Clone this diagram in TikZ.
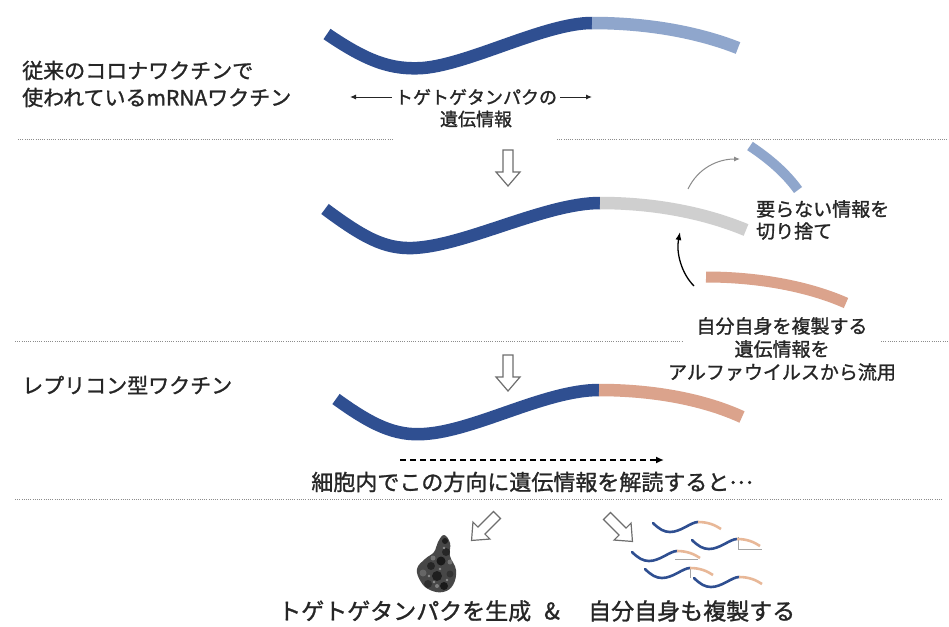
\documentclass[tikz,border=0pt]{standalone}
\usepackage{fontspec}
\setmainfont{Noto Sans CJK JP}[UprightFeatures={FakeBold=1.2}]
\usetikzlibrary{arrows.meta}
\definecolor{rnablue}{HTML}{2F4F91}
\definecolor{rnalight}{HTML}{8FA6CC}
\definecolor{rnagray}{HTML}{CFCFCF}
\definecolor{rnasalmon}{HTML}{DBA38C}
\definecolor{minisalmon}{HTML}{E8B898}
\definecolor{txt}{HTML}{262626}
\definecolor{sepline}{HTML}{8C8C8C}
\definecolor{arrowgray}{HTML}{6E6E6E}
\begin{document}
\begin{tikzpicture}[x=1pt,y=-1pt,
  strand/.style={line width=12.5pt,line cap=butt},
  sep/.style={sepline,line width=0.8pt,dash pattern=on 1pt off 1.2pt},
  hollow/.style={arrowgray,line width=1.2pt,fill=white,line join=miter},
  lbl/.style={txt,inner sep=0pt},
  ministrand/.pic={
    \draw[rnablue,line width=2.6pt,line cap=round]
      (0,0) .. controls (6,6) and (11,9) .. (17,9) .. controls (28,9) and (38,-1) .. (45,-1);
    \draw[minisalmon,line width=2.6pt]
      (45,-1) .. controls (55,-1) and (62,2) .. (68,6);
  },
  hollowarrow/.pic={
    \draw[hollow] (-5,0) -- (5,0) -- (5,22) -- (12,22) -- (0,36) -- (-12,22) -- (-5,22) -- cycle;
  }
]
\useasboundingbox[fill=white] (0,0) rectangle (949,626);

% ---------- section 1: conventional mRNA vaccine ----------
\node[lbl,anchor=west,align=left,font=\fontsize{21}{27}\selectfont] (convtitle) at (22,84)
  {従来のコロナワクチンで\\使われているmRNAワクチン};

\draw[strand,rnablue] (327,34) .. controls (368,62) and (392,70) .. (423,68)
  .. controls (470,64) and (545,23) .. (592,23);
\draw[strand,rnalight] (592,23) .. controls (650,23) and (700,33) .. (738,48);

\node[lbl,font=\fontsize{18}{18}\selectfont] (gl1) at (476,97) {トゲトゲタンパクの};
\node[lbl,font=\fontsize{18}{18}\selectfont] (gl2) at (476,119) {遺伝情報};
\coordinate (glL) at (350,97);
\coordinate (glR) at (592,97);
\draw[txt,line width=1pt,-{Latex[length=6pt,width=5pt]}] ([xshift=-3pt]gl1.west) -- (glL);
\draw[txt,line width=1pt,-{Latex[length=6pt,width=5pt]}] ([xshift=3pt]gl1.east) -- (glR);

\draw[sep] (18,139) -- (393,139);
\draw[sep] (557,139) -- (949,139);

\pic at (508,150) {hollowarrow};

% ---------- section 2: construction ----------
\draw[strand,rnablue] (325,209) .. controls (364,238) and (385,249) .. (413,248)
  .. controls (465,246) and (545,203) .. (600,203);
\draw[strand,rnagray] (600,203) .. controls (660,203) and (710,215) .. (746,230);

\draw[strand,rnalight,line width=10pt] (750,146) .. controls (768,158) and (785,172) .. (798,190);
\coordinate (cutA) at (688,189);
\coordinate (cutB) at (740,159);
\draw[arrowgray!80,line width=1pt,-{Latex[length=6pt,width=5pt]}]
  (cutA) .. controls (698,168) and (718,159) .. (cutB);
\node[lbl,anchor=west,align=left,font=\fontsize{19}{22}\selectfont] (cuttxt) at (756,220)
  {要らない情報を\\切り捨て};

\draw[strand,rnasalmon,line width=11pt] (706,277) .. controls (760,277) and (810,287) .. (846,303);
\coordinate (insA) at (694,286);
\coordinate (insB) at (680,232);
\draw[black,line width=1.3pt,-{Latex[length=8pt,width=6pt]}]
  (insA) .. controls (681,273) and (676,252) .. (insB);
\node[lbl,align=center,font=\fontsize{19}{23}\selectfont] (alphatxt) at (782,349)
  {自分自身を複製する\\遺伝情報を\\アルファウイルスから流用};

\draw[sep] (15,341) -- (683,341);
\draw[sep] (881,341) -- (949,341);

% ---------- section 3: replicon vaccine ----------
\node[lbl,anchor=west,font=\fontsize{21}{21}\selectfont] (reptitle) at (22,385) {レプリコン型ワクチン};

\pic at (508,355) {hollowarrow};

\draw[strand,rnablue] (336,399) .. controls (372,425) and (395,436) .. (424,434)
  .. controls (475,431) and (545,390) .. (599,390);
\draw[strand,rnasalmon] (599,390) .. controls (655,390) and (705,400) .. (742,417);

\coordinate (readA) at (400,460);
\coordinate (readB) at (664,460);
\draw[black,line width=1.6pt,dash pattern=on 6pt off 4pt,-{Latex[length=8pt,width=7pt]}] (readA) -- (readB);
\node[lbl,font=\fontsize{22}{22}\selectfont] (readtxt) at (532,482)
  {細胞内でこの方向に遺伝情報を解読すると\raisebox{0.3em}{…}};

\draw[sep] (15,499) -- (942,499);

% ---------- section 4: results ----------
\pic[rotate=-45] at (497,515) {hollowarrow};
\pic[rotate=45] at (607,516) {hollowarrow};

% spike protein: a dark irregular mass with grainy texture
\fill[black!72] plot[smooth cycle,tension=0.7] coordinates
  {(444,535) (450,543) (450,556) (456,570) (453,585) (443,592) (430,590)
   (421,582) (417,569) (425,559) (434,552) (438,542)};
\foreach \px/\py/\r/\shade in {
  445/541/3/88, 446/552/4/85, 441/561/4.5/90, 431/566/4/85, 423/573/3.5/60,
  437/576/5/88, 450/574/3.5/80, 428/584/4/82, 444/586/4/90, 450/562/2.5/55,
  433/558/2.5/55, 437/586/2/50}{
  \fill[black!\shade] (\px,\py) circle (\r);
}
\foreach \px/\py in {440/569, 429/576, 447/580, 444/548, 434/582}{
  \fill[black!45] (\px,\py) circle (1.3);
}

% replicated strands
\draw[rnagray!80!black,line width=0.5pt] (738,537) -- (738,549) -- (762,549);
\draw[rnagray!80!black,line width=0.5pt] (675,559) -- (698,559);
\draw[rnagray!80!black,line width=0.5pt] (690,568) -- (690,578);
\pic at (653,523) {ministrand};
\pic at (692,540) {ministrand};
\pic at (632,552) {ministrand};
\pic at (645,569) {ministrand};
\pic at (694,578) {ministrand};

\node[lbl,anchor=west,font=\fontsize{23}{23}\selectfont] (protxt) at (278,611) {トゲトゲタンパクを生成};
\node[lbl,font=\fontsize{23}{23}\selectfont] (amp) at (552,611) {\&};
\node[lbl,anchor=west,font=\fontsize{23}{23}\selectfont] (reptxt) at (588,611) {自分自身も複製する};
\end{tikzpicture}
\end{document}
